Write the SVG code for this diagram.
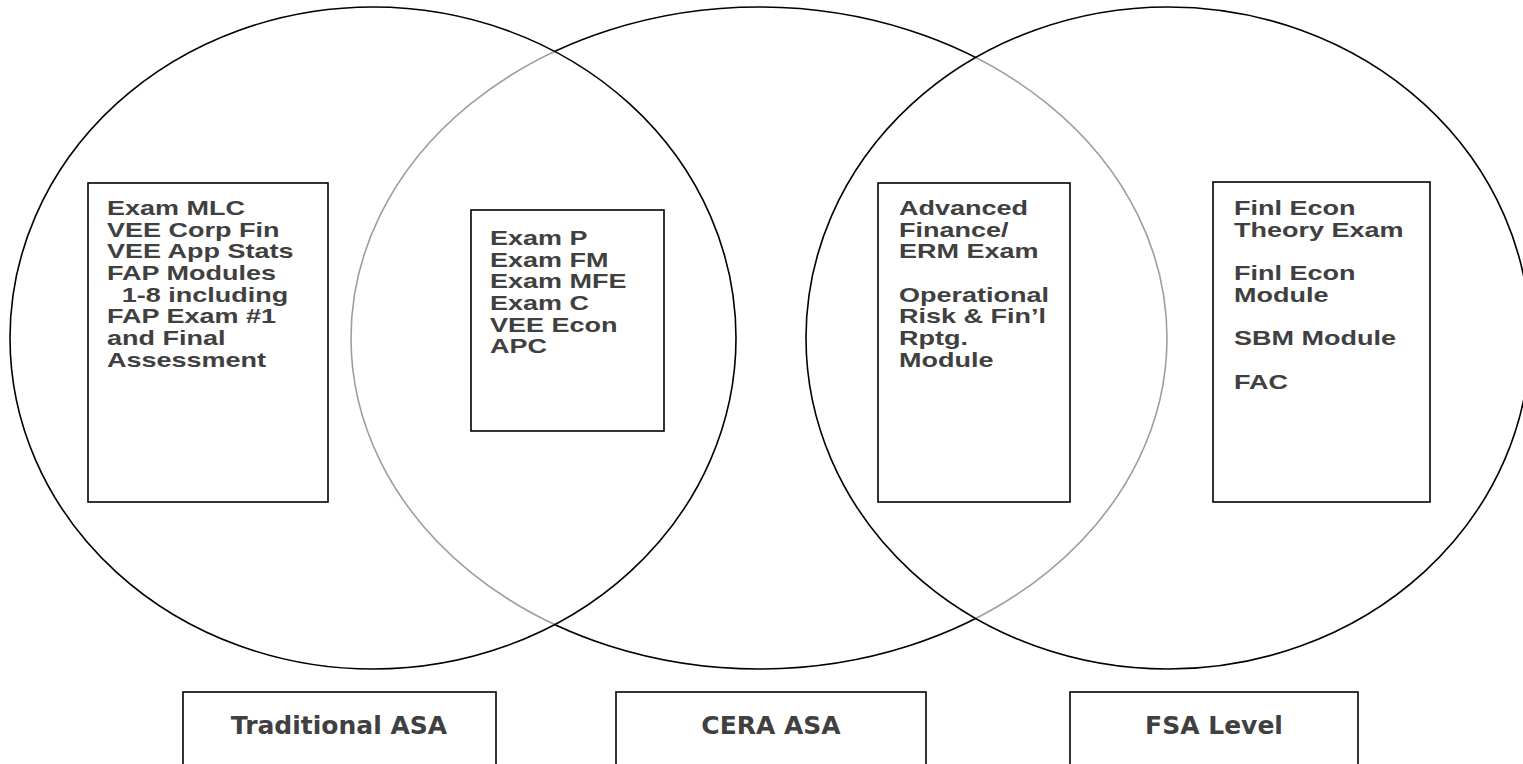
<svg xmlns="http://www.w3.org/2000/svg" width="1523" height="764" viewBox="0 0 1523 764">
<style>
.ell{stroke:#000;stroke-width:1.6}
.lay{fill:#fff;fill-opacity:0.62}
.box{fill:#fff;stroke:#000;stroke-width:1.6}
.t{font-family:"Liberation Sans",Arial,sans-serif;font-weight:bold;font-size:20px;fill:#404040}
.lbl{font-family:"DejaVu Sans",Verdana,sans-serif;font-weight:bold;font-size:25px;fill:#404040;text-anchor:middle}
</style>
<rect width="1523" height="764" fill="#fff"/>
<g id="circles">
<ellipse id="cera-circle" class="ell" fill="none" cx="759" cy="338" rx="408" ry="331"/>
<ellipse id="asa-circle" class="ell lay" cx="373" cy="338" rx="363" ry="331"/>
<ellipse id="fsa-circle" class="ell lay" cx="1168" cy="338" rx="362" ry="331"/>
</g>
<g id="connectors"></g>
<g id="box-asa">
<rect class="box" x="88" y="183" width="240" height="319"/>
<text class="t" transform="translate(107,215) scale(1.35,1)">
<tspan x="0" y="0">Exam MLC</tspan>
<tspan x="0" y="21.7">VEE Corp Fin</tspan>
<tspan x="0" y="43.4">VEE App Stats</tspan>
<tspan x="0" y="65.1">FAP Modules</tspan>
<tspan x="11" y="86.8">1-8 including</tspan>
<tspan x="0" y="108.5">FAP Exam #1</tspan>
<tspan x="0" y="130.2">and Final</tspan>
<tspan x="0" y="151.9">Assessment</tspan>
</text>
</g>
<g id="box-common">
<rect class="box" x="471" y="210" width="193" height="221"/>
<text class="t" transform="translate(490,245) scale(1.35,1)">
<tspan x="0" y="0">Exam P</tspan>
<tspan x="0" y="21.7">Exam FM</tspan>
<tspan x="0" y="43.4">Exam MFE</tspan>
<tspan x="0" y="65.1">Exam C</tspan>
<tspan x="0" y="86.8">VEE Econ</tspan>
<tspan x="0" y="108.5">APC</tspan>
</text>
</g>
<g id="box-cera">
<rect class="box" x="878" y="183" width="192" height="319"/>
<text class="t" transform="translate(899,215) scale(1.35,1)">
<tspan x="0" y="0">Advanced</tspan>
<tspan x="0" y="21.7">Finance/</tspan>
<tspan x="0" y="43.4">ERM Exam</tspan>
<tspan x="0" y="86.8">Operational</tspan>
<tspan x="0" y="108.5">Risk &amp; Fin’l</tspan>
<tspan x="0" y="130.2">Rptg.</tspan>
<tspan x="0" y="151.9">Module</tspan>
</text>
</g>
<g id="box-fsa">
<rect class="box" x="1213" y="182" width="217" height="320"/>
<text class="t" transform="translate(1234,215) scale(1.35,1)">
<tspan x="0" y="0">Finl Econ</tspan>
<tspan x="0" y="21.7">Theory Exam</tspan>
<tspan x="0" y="65.1">Finl Econ</tspan>
<tspan x="0" y="86.8">Module</tspan>
<tspan x="0" y="130.2">SBM Module</tspan>
<tspan x="0" y="173.6">FAC</tspan>
</text>
</g>
<g id="label-traditional">
<rect class="box" x="183" y="692" width="313" height="80"/>
<text class="lbl" x="339" y="734">Traditional ASA</text>
</g>
<g id="label-cera">
<rect class="box" x="616" y="692" width="310" height="80"/>
<text class="lbl" x="771" y="734">CERA ASA</text>
</g>
<g id="label-fsa">
<rect class="box" x="1070" y="692" width="288" height="80"/>
<text class="lbl" x="1214" y="734">FSA Level</text>
</g>
</svg>
